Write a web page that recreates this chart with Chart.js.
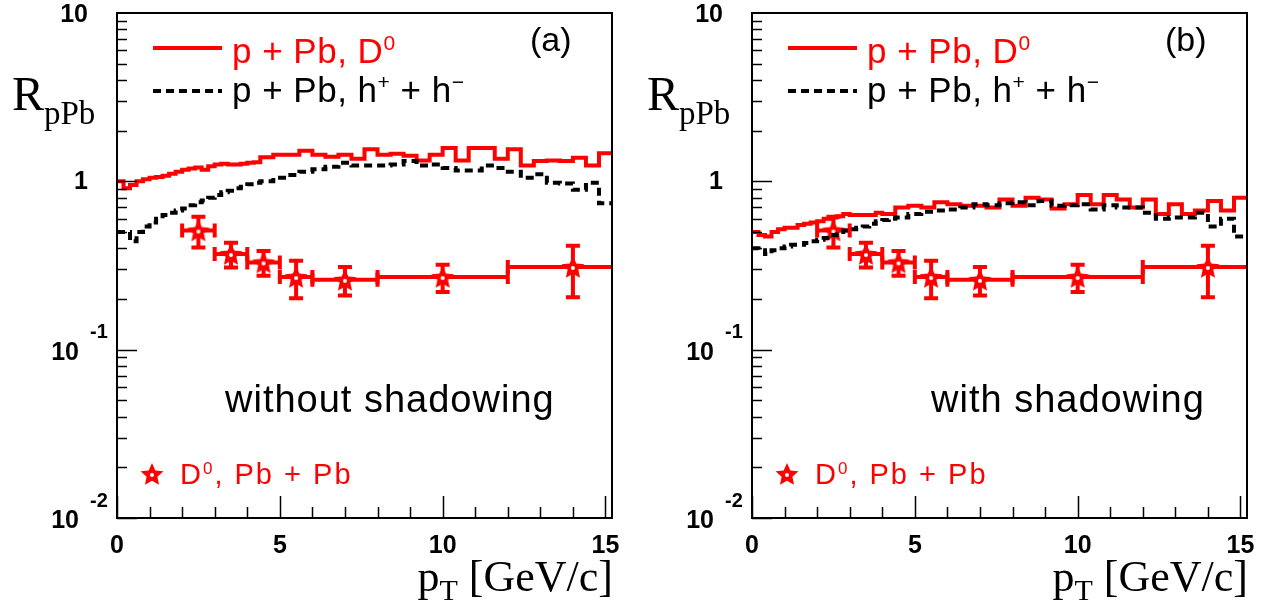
<!DOCTYPE html>
<html>
<head>
<meta charset="utf-8">
<script src="https://cdn.jsdelivr.net/npm/chart.js@4.4.1/dist/chart.umd.min.js"></script>
<style>
body{margin:0;background:#fff;}
#wrap{position:relative;width:1270px;height:606px;background:#fff;}
canvas{position:absolute;top:0;}
#cA{left:0;}
#cB{left:635px;}
</style>
</head>
<body>
<div id="wrap">
<canvas id="cA" width="635" height="606"></canvas>
<canvas id="cB" width="635" height="606"></canvas>
</div>
<script>
// pT bin edges [GeV/c]: 0.2 wide up to 4.4, then 0.4 wide
var ptEdges=[0,0.2,0.4,0.6,0.8,1,1.2,1.4,1.6,1.8,2,2.2,2.4,2.6,2.8,3,3.2,3.4,3.6,3.8,4,4.2,4.4,
  4.8,5.2,5.6,6,6.4,6.8,7.2,7.6,8,8.4,8.8,9.2,9.6,10,10.4,10.8,11.2,11.6,12,12.4,12.8,13.2,13.6,14,14.4,14.8,15.2];

// R_pPb, without shadowing
var d0NoShad=[1.0,0.91,0.95,1.0,1.03,1.05,1.06,1.08,1.11,1.14,1.17,1.19,1.21,1.17,1.23,1.26,1.27,1.26,1.26,1.27,1.29,1.30,
  1.39,1.44,1.44,1.52,1.44,1.40,1.44,1.36,1.55,1.44,1.46,1.42,1.33,1.44,1.58,1.33,1.58,1.58,1.36,1.55,1.24,1.32,1.33,1.32,1.38,1.24,1.47];
var hadNoShad=[0.50,0.50,0.44,0.50,0.54,0.57,0.60,0.63,0.65,0.67,0.69,0.72,0.75,0.77,0.80,0.83,0.86,0.88,0.91,0.93,0.96,0.98,
  1.00,1.05,1.09,1.14,1.18,1.22,1.29,1.24,1.24,1.24,1.26,1.32,1.24,1.26,1.20,1.16,1.16,1.24,1.20,1.14,1.05,1.10,0.98,0.97,0.89,0.98,0.74];

// R_pPb, with shadowing
var d0Shad=[0.50,0.48,0.47,0.50,0.52,0.53,0.53,0.55,0.56,0.57,0.58,0.60,0.61,0.62,0.64,0.63,0.63,0.63,0.63,0.65,0.64,0.64,
  0.70,0.715,0.70,0.75,0.73,0.715,0.715,0.70,0.78,0.715,0.80,0.78,0.69,0.73,0.83,0.73,0.83,0.78,0.70,0.78,0.64,0.73,0.64,0.67,0.765,0.67,0.80];
var hadShad=[0.40,0.39,0.37,0.39,0.40,0.41,0.42,0.42,0.43,0.44,0.45,0.46,0.48,0.50,0.51,0.52,0.53,0.54,0.56,0.58,0.59,0.60,
  0.61,0.64,0.66,0.67,0.68,0.70,0.73,0.72,0.74,0.75,0.72,0.765,0.715,0.72,0.73,0.68,0.72,0.70,0.70,0.65,0.60,0.61,0.61,0.65,0.54,0.60,0.47];

// D0 in Pb+Pb, with pT bin widths and errors
var pbPt=[2.5,3.5,4.5,5.5,7,10,14];
var pbPtLow=[2,3,4,5,6,8,12];
var pbPtHigh=[3,4,5,6,8,12,16];
var pbR=[0.51,0.37,0.33,0.27,0.26,0.27,0.31];
var pbErr=[0.105,0.062,0.055,0.068,0.05,0.05,0.105];

var xMajor=[0,5,10,15];
var RED='#ff0000';

function histPoints(edges,vals){
  var pts=[];
  for(var i=0;i<vals.length;i++) pts.push({x:edges[i],y:vals[i]});
  pts.push({x:edges[vals.length],y:vals[vals.length-1]});
  return pts;
}

// five-pointed star with a small hole, used as marker
function makeStar(r){
  var c=document.createElement('canvas');
  var s=Math.ceil(r*2+4);
  c.width=s;c.height=s;
  var g=c.getContext('2d');
  g.translate(s/2,s/2+1);
  g.beginPath();
  for(var i=0;i<10;i++){
    var a=-Math.PI/2+i*Math.PI/5;
    var rr=i%2?r*0.47:r;
    g.lineTo(rr*Math.cos(a),rr*Math.sin(a));
  }
  g.closePath();
  g.fillStyle=RED;g.fill();
  g.beginPath();g.arc(0,0,r*0.17,0,2*Math.PI);g.fillStyle='#fff';g.fill();
  return c;
}
var starImg=makeStar(12);

function richText(ctx,parts,x,y,size,color,spacing){
  ctx.save();
  ctx.fillStyle=color;ctx.textAlign='left';ctx.textBaseline='alphabetic';
  ctx.letterSpacing=(spacing||0)+'px';
  parts.forEach(function(p){
    var s=p.sup?Math.round(size*0.6):size;
    ctx.font=s+'px "Liberation Sans"';
    ctx.fillText(p.t,x,p.sup?y-size*0.36:y);
    x+=ctx.measureText(p.t).width;
  });
  ctx.restore();
}

function rootPlugin(tag,note){
  return {
    id:'rootFrame',
    beforeDatasetsDraw:function(chart){
      var ctx=chart.ctx,a=chart.chartArea,xs=chart.scales.x,ys=chart.scales.y;
      ctx.save();
      ctx.beginPath();ctx.rect(a.left,a.top,a.right-a.left,a.bottom-a.top);ctx.clip();
      ctx.strokeStyle=RED;ctx.lineWidth=4;
      for(var i=0;i<pbPt.length;i++){
        var x=xs.getPixelForValue(pbPt[i]),y=ys.getPixelForValue(pbR[i]);
        var xl=xs.getPixelForValue(pbPtLow[i]),xh=xs.getPixelForValue(pbPtHigh[i]);
        var yt=ys.getPixelForValue(pbR[i]+pbErr[i]),yb=ys.getPixelForValue(pbR[i]-pbErr[i]);
        ctx.beginPath();
        ctx.moveTo(xl,y);ctx.lineTo(xh,y);
        ctx.moveTo(xl,y-7);ctx.lineTo(xl,y+7);
        ctx.moveTo(xh,y-7);ctx.lineTo(xh,y+7);
        ctx.moveTo(x,yt);ctx.lineTo(x,yb);
        ctx.moveTo(x-7,yt);ctx.lineTo(x+7,yt);
        ctx.moveTo(x-7,yb);ctx.lineTo(x+7,yb);
        ctx.stroke();
      }
      ctx.restore();
    },
    afterDraw:function(chart){
      var ctx=chart.ctx,a=chart.chartArea,xs=chart.scales.x,ys=chart.scales.y;
      var L=a.left,R=a.right,T=a.top,B=a.bottom;
      ctx.save();
      // frame
      ctx.strokeStyle='#000';ctx.lineWidth=2;
      ctx.strokeRect(L,T,R-L,B-T);
      // y ticks, drawn inward
      ctx.lineWidth=1.5;
      ctx.beginPath();
      [0.01,0.1,1].forEach(function(d){
        for(var k=1;k<=9;k++){
          var yy=Math.round(ys.getPixelForValue(d*k))+0.5;
          ctx.moveTo(L,yy);ctx.lineTo(L+(k===1?20:10),yy);
        }
      });
      ctx.stroke();
      // x ticks
      ctx.beginPath();
      for(var i=0;i<=15;i++){
        var xx=Math.round(xs.getPixelForValue(i))+0.5;
        ctx.moveTo(xx,B);ctx.lineTo(xx,B-(i%5===0?22:11));
      }
      ctx.stroke();
      // tick labels
      ctx.fillStyle='#000';
      ctx.font='bold 25px "Liberation Sans"';
      ctx.textBaseline='middle';
      ctx.textAlign='center';
      xMajor.forEach(function(v){ctx.fillText(String(v),xs.getPixelForValue(v),B+28);});
      ctx.textAlign='right';
      ctx.fillText('10',L-29,ys.getPixelForValue(10)+2);
      ctx.fillText('1',L-29,ys.getPixelForValue(1)+1);
      [-1,-2].forEach(function(e){
        var yy=ys.getPixelForValue(Math.pow(10,e));
        ctx.font='bold 25px "Liberation Sans"';ctx.textAlign='right';
        ctx.fillText('10',L-38,yy+3);
        ctx.font='bold 20px "Liberation Sans"';ctx.textAlign='left';
        ctx.fillText(String(e),L-27,yy-17);
      });
      // axis titles
      ctx.textBaseline='alphabetic';ctx.textAlign='left';
      ctx.font='48px "Liberation Serif"';
      ctx.fillText('R',L-105,110);
      var rw=ctx.measureText('R').width;
      ctx.font='33px "Liberation Serif"';
      ctx.fillText('pPb',L-105+rw,124);
      ctx.font='44px "Liberation Serif"';
      var w1=ctx.measureText('p').width,w3=ctx.measureText(' [GeV/c]').width;
      ctx.font='30px "Liberation Serif"';
      var w2=ctx.measureText('T').width;
      var x0=R+1-(w1+w2+w3);
      ctx.font='44px "Liberation Serif"';
      ctx.fillText('p',x0,591);
      ctx.font='30px "Liberation Serif"';
      ctx.fillText('T',x0+w1,600);
      ctx.font='44px "Liberation Serif"';
      ctx.fillText(' [GeV/c]',x0+w1+w2,591);
      // legend
      ctx.lineWidth=4;
      ctx.strokeStyle=RED;
      ctx.beginPath();ctx.moveTo(L+36,T+35);ctx.lineTo(L+105,T+35);ctx.stroke();
      ctx.strokeStyle='#000';ctx.setLineDash([8,5]);
      ctx.beginPath();ctx.moveTo(L+36,T+78);ctx.lineTo(L+105,T+78);ctx.stroke();
      ctx.setLineDash([]);
      richText(ctx,[{t:'p + Pb, D'},{t:'0',sup:true}],L+115,T+50,35,RED,0.5);
      richText(ctx,[{t:'p + Pb, h'},{t:'+',sup:true},{t:' + h'},{t:'\u2212',sup:true}],L+115,T+89,35,'#000',0.5);
      richText(ctx,[{t:tag}],L+413,T+38,34,'#000',0);
      richText(ctx,[{t:note}],note.length>15?L+108:L+179,412,38,'#000',1);
      ctx.drawImage(starImg,L+35-starImg.width/2,474-starImg.height/2);
      richText(ctx,[{t:'D'},{t:'0',sup:true},{t:', Pb + Pb'}],L+63,484,29,RED,2);
      ctx.restore();
    }
  };
}

function makePanel(id,d0,had,tag,note){
  var pbPoints=pbPt.map(function(x,i){return {x:x,y:pbR[i]};});
  return new Chart(document.getElementById(id),{
    type:'line',
    data:{
      datasets:[
        {data:histPoints(ptEdges,had),borderColor:'#000',borderWidth:4,borderDash:[8,5],stepped:'before',pointRadius:0,fill:false},
        {data:histPoints(ptEdges,d0),borderColor:RED,borderWidth:4,stepped:'before',pointRadius:0,fill:false},
        {data:pbPoints,showLine:false,pointStyle:starImg,pointRadius:12,borderColor:RED,backgroundColor:RED}
      ]
    },
    options:{
      responsive:false,
      animation:false,
      events:[],
      layout:{padding:{left:117,top:12,right:23,bottom:88}},
      plugins:{legend:{display:false},tooltip:{enabled:false}},
      scales:{
        x:{type:'linear',min:0,max:15.2,display:false},
        y:{type:'logarithmic',min:0.01,max:10,display:false}
      }
    },
    plugins:[rootPlugin(tag,note)]
  });
}

makePanel('cA',d0NoShad,hadNoShad,'(a)','without shadowing');
makePanel('cB',d0Shad,hadShad,'(b)','with shadowing');
</script>
</body>
</html>
